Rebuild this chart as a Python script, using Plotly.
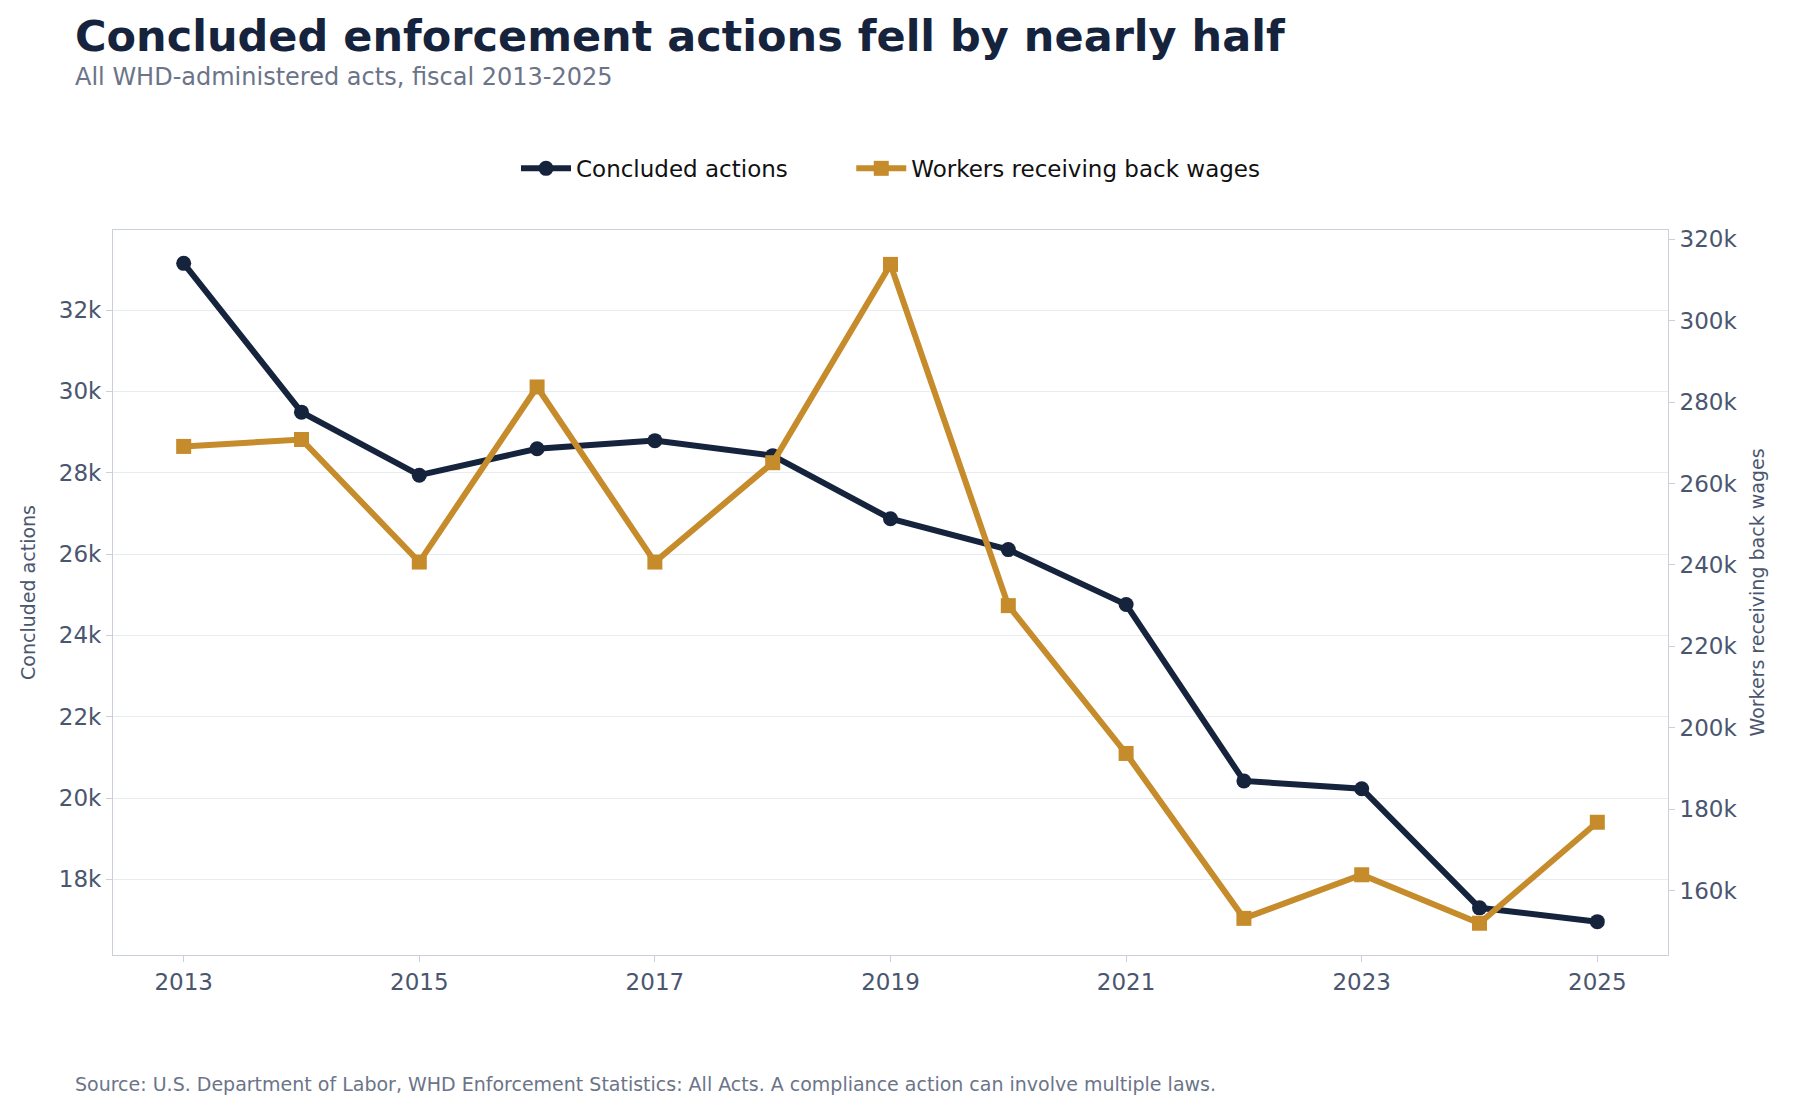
import plotly.graph_objects as go

years = list(range(2013, 2026))
concluded = [33150, 29490, 27940, 28590, 28790, 28420, 26870, 26110, 24760, 20420, 20230, 17300, 16960]
workers = [269100, 270800, 240700, 283700, 240700, 265100, 313800, 230000, 193700, 153200, 163900, 152000, 176800]

navy = "#16233d"
gold = "#c68b2a"
font = "DejaVu Sans"

fig = go.Figure()
fig.add_trace(go.Scatter(x=years, y=concluded, name="Concluded actions" + "&nbsp;" * 8, mode="lines+markers",
                         line=dict(color=navy, width=6), marker=dict(symbol="circle", size=15, color=navy)))
fig.add_trace(go.Scatter(x=years, y=workers, name="Workers receiving back wages", mode="lines+markers",
                         yaxis="y2", line=dict(color=gold, width=6),
                         marker=dict(symbol="square", size=15, color=gold)))

axcol = "#4a5670"
fig.update_layout(
    width=1796, height=1114, paper_bgcolor="white", plot_bgcolor="white",
    font=dict(family=font, color=axcol),
    margin=dict(l=105, r=136, t=222, b=167),
    showlegend=True,
    legend=dict(orientation="h", x=0.5, xanchor="center", y=1.085, yanchor="middle",
                font=dict(size=23, color="#111"), itemwidth=50),
    xaxis=dict(range=[2012.4, 2025.6], tickvals=[2013, 2015, 2017, 2019, 2021, 2023, 2025],
               showgrid=False, ticks="outside", ticklen=6, tickcolor="#c9cfdb",
               tickfont=dict(size=23, color=axcol), showline=True, linecolor="#c9cfdb", mirror=True),
    yaxis=dict(range=[16140, 33970], tickvals=[18000, 20000, 22000, 24000, 26000, 28000, 30000, 32000],
               ticktext=["18k", "20k", "22k", "24k", "26k", "28k", "30k", "32k"],
               gridcolor="#e8ebf0", zeroline=False, ticks="outside", ticklen=6, tickcolor="#c9cfdb",
               tickfont=dict(size=23, color=axcol), showline=True, linecolor="#c9cfdb",
               title=dict(text="Concluded actions", font=dict(size=19, color=axcol), standoff=18)),
    yaxis2=dict(range=[144200, 322250], overlaying="y", side="right",
                tickvals=[160000, 180000, 200000, 220000, 240000, 260000, 280000, 300000, 320000],
                ticktext=["160k", "180k", "200k", "220k", "240k", "260k", "280k", "300k", "320k"],
                showgrid=False, zeroline=False, ticks="outside", ticklen=6, tickcolor="#c9cfdb",
                tickfont=dict(size=23, color=axcol), showline=True, linecolor="#c9cfdb",
                title=dict(text="Workers receiving back wages", font=dict(size=19, color=axcol), standoff=14)),
)
fig.add_annotation(text="<b>Concluded enforcement actions fell by nearly half</b>", xref="paper", yref="paper",
                   x=-0.026, y=1.0, yshift=194, xanchor="left", yanchor="middle", showarrow=False,
                   font=dict(size=43, color=navy, family=font))
fig.add_annotation(text="All WHD-administered acts, fiscal 2013-2025", xref="paper", yref="paper",
                   x=-0.026, y=1.0, yshift=153, xanchor="left", yanchor="middle", showarrow=False,
                   font=dict(size=24, color="#6b7488", family=font))
fig.add_annotation(text="Source: U.S. Department of Labor, WHD Enforcement Statistics: All Acts. A compliance action can involve multiple laws.",
                   xref="paper", yref="paper", x=-0.026, y=0, yshift=-129, xanchor="left", yanchor="middle",
                   showarrow=False, font=dict(size=19, color="#6b7488", family=font))
fig.write_html("out.html")
